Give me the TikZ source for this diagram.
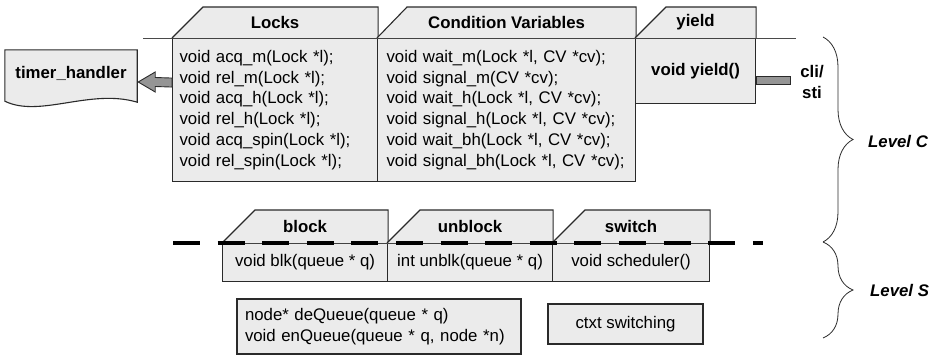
\documentclass[tikz,border=0pt]{standalone}
\usepackage{fontspec}
\setmainfont{Liberation Sans}
\usetikzlibrary{calc,decorations.pathreplacing}
\definecolor{boxgray}{HTML}{EBEBEB}
\definecolor{edge}{HTML}{2A2A2A}
\definecolor{arrgray}{HTML}{959595}
\begin{document}
\begin{tikzpicture}[x=1pt,y=-1pt,
  boxline/.style={draw=edge, line width=1.1pt, fill=boxgray, line join=miter},
  bodybox/.style={boxline, anchor=north west, inner sep=0pt},
  tfont/.style={font=\fontsize{16.8}{20.8}\selectfont},
  bfont/.style={font=\fontsize{16.8}{20.8}\selectfont\bfseries},
  hdr/.style={bfont, inner sep=0pt},
  arrowfill/.style={draw=edge, line width=0.9pt, fill=arrgray},
  thinline/.style={draw=edge!85, line width=1pt},
  levelbrace/.style={draw=edge, line width=0.8pt, decorate, decoration={brace, amplitude=30pt, aspect=0.5}},
  levellbl/.style={font=\fontsize{16.8}{20.8}\selectfont\bfseries\itshape, inner sep=0pt, anchor=west},
  layerdash/.style={draw=black, line width=4pt, dash pattern=on 27pt off 17.6pt}
]
\useasboundingbox (0,0) rectangle (937,356);

% separator line of level C
\coordinate (sepL) at (143,38);
\coordinate (sepR) at (796,38);
\draw[thinline] (sepL) -- (sepR);

% ---- top row bodies ----
\node[bodybox, tfont, minimum width=205pt, minimum height=143pt, text width=191pt, inner xsep=7pt, align=left] (locks) at (172,38)
 {void acq\_m(Lock *l);\\void rel\_m(Lock *l);\\void acq\_h(Lock *l);\\void rel\_h(Lock *l);\\void acq\_spin(Lock *l);\\void rel\_spin(Lock *l);};
\node[bodybox, tfont, minimum width=258pt, minimum height=143pt, text width=240pt, inner xsep=9pt, align=left] (cv) at (377,38)
 {void wait\_m(Lock *l, CV *cv);\\void signal\_m(CV *cv);\\void wait\_h(Lock *l, CV *cv);\\void signal\_h(Lock *l, CV *cv);\\void wait\_bh(Lock *l, CV *cv);\\void signal\_bh(Lock *l, CV *cv);};
\node[bodybox, bfont, minimum width=120pt, minimum height=65pt] (yield) at (635,38) {void yield()};

% ---- top row headers ----
\draw[boxline] (locks.north west) -- ++(31,-31) -- ($(locks.north east)+(0,-31)$) -- (locks.north east);
\draw[boxline] (cv.north west) -- ++(30,-31) -- ($(cv.north east)+(0,-31)$) -- (cv.north east);
\draw[boxline] (yield.north west) -- ++(31,-31) -- ($(yield.north east)+(0,-31)$) -- (yield.north east);
\node[hdr] (lockshdr) at ($(locks.north)+(0,-16)$) {Locks};
\node[hdr] (cvhdr) at ($(cv.north)+(0,-16)$) {Condition Variables};
\node[hdr] (yieldhdr) at ($(yield.north)+(0,-16)$) {yield};

% ---- timer handler (document shape) ----
\node[minimum width=132pt, minimum height=52pt, inner sep=0pt] (timer) at (71,76) {};
\draw[boxline] (timer.south east) -- (timer.north east) -- (timer.north west) -- ($(timer.south west)+(0,-1)$)
  .. controls ($(timer.south west)+(35,16)$) and ($(timer.south east)+(-47,-14)$) .. (timer.south east) -- cycle;
\node[hdr] (timerlbl) at (71,73) {timer\_handler};

% ---- fat arrow Locks -> timer_handler ----
\coordinate (arrA) at ($(locks.west)+(0,-27.5)$);
\coordinate (arrB) at ($(timer.east)+(1,6)$);
\draw[arrowfill] ($(arrA)+(0,-4.5)$) -- ($(arrB)+(17,-4.5)$) -- ($(arrB)+(17,-10)$) -- (arrB)
  -- ($(arrB)+(17,10)$) -- ($(arrB)+(17,4.5)$) -- ($(arrA)+(0,4.5)$) -- cycle;

% ---- cli/sti bar ----
\coordinate (cliend) at ($(yield.east)+(34,13.5)$);
\draw[arrowfill] ($(yield.east)+(0,5.5)$) rectangle (cliend);
\node[hdr, align=center] (cli) at (812,82) {cli/\\sti};

% ---- bottom row ----
\node[bodybox, tfont, minimum width=165pt, minimum height=38pt] (blk) at (222,243) {void blk(queue * q)};
\node[bodybox, tfont, minimum width=165pt, minimum height=38pt] (unblk) at (387,243) {int unblk(queue * q)};
\node[bodybox, tfont, minimum width=157pt, minimum height=38pt] (sw) at (552,243) {void scheduler()};
\draw[boxline] (blk.north west) -- ++(33,-33) -- ($(blk.north east)+(0,-33)$) -- (blk.north east);
\draw[boxline] (unblk.north west) -- ++(33,-33) -- ($(unblk.north east)+(0,-33)$) -- (unblk.north east);
\draw[boxline] (sw.north west) -- ++(33,-33) -- ($(sw.north east)+(0,-33)$) -- (sw.north east);
\node[hdr] (blkhdr) at ($(blk.north)+(0,-17)$) {block};
\node[hdr] (unblkhdr) at ($(unblk.north)+(0,-17)$) {unblock};
\node[hdr] (swhdr) at ($(sw.north)+(0,-17)$) {switch};

% dashed level separator
\coordinate (dashL) at (173,243);
\coordinate (dashR) at (763,243);
\draw[layerdash] (dashL) -- (dashR);

% ---- level S boxes ----
\node[boxline, tfont, text width=268pt, inner xsep=8pt, inner ysep=4pt, minimum height=55pt, align=left] (deq) at (379,326.5)
 {node* deQueue(queue * q)\\void enQueue(queue * q, node *n)};
\node[boxline, tfont, minimum width=155pt, minimum height=40pt, inner sep=0pt] (ctxt) at (625.5,324) {ctxt switching};

% ---- braces ----
\coordinate (bC1) at (823,37);
\coordinate (bC2) at (823,242);
\coordinate (bS2) at (823,338);
\draw[levelbrace] (bC1) -- (bC2);
\draw[levelbrace] (bC2) -- (bS2);
\node[levellbl] (lvlC) at (868,141) {Level C};
\node[levellbl] (lvlS) at (870,290) {Level S};
\end{tikzpicture}
\end{document}
